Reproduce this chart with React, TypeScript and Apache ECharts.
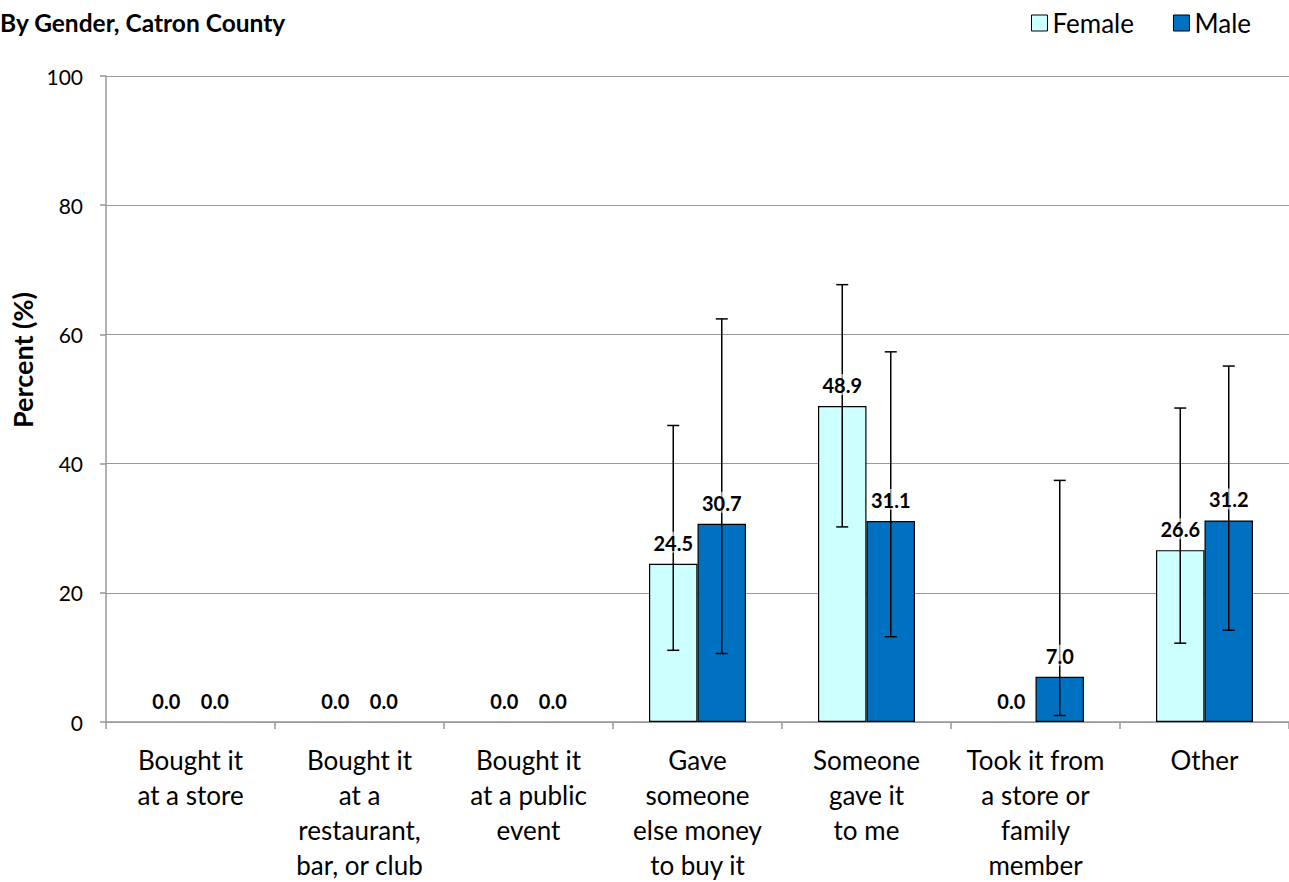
import React, { useEffect, useRef } from "react";
import * as echarts from "echarts";

const categories = [
  "Bought it\nat a store",
  "Bought it\nat a\nrestaurant,\nbar, or club",
  "Bought it\nat a public\nevent",
  "Gave\nsomeone\nelse money\nto buy it",
  "Someone\ngave it\nto me",
  "Took it from\na store or\nfamily\nmember",
  "Other",
];
const femaleValues = [0.0, 0.0, 0.0, 24.5, 48.9, 0.0, 26.6];
const maleValues = [0.0, 0.0, 0.0, 30.7, 31.1, 7.0, 31.2];
const femaleLow = [null, null, null, 11.1, 30.2, null, 12.2];
const femaleHigh = [null, null, null, 45.9, 67.7, null, 48.6];
const maleLow = [null, null, null, 10.6, 13.2, 1.0, 14.2];
const maleHigh = [null, null, null, 62.4, 57.3, 37.4, 55.1];
const yTicks = [0, 20, 40, 60, 80, 100];

const FONT = "Lato, 'Open Sans', sans-serif";

export default function App() {
  const ref = useRef<HTMLDivElement>(null);
  useEffect(() => {
    if (!ref.current) return;
    const chart = echarts.init(ref.current, null, { renderer: "svg" });
    const offsetFrac = 0.1435;
    const errSeries = (name: string, low: (number | null)[], high: (number | null)[], sign: number) => ({
      type: "custom",
      name,
      z: 3,
      silent: true,
      data: low.map((l, i) => [i, l, high[i]]).filter((d) => d[1] !== null),
      encode: { x: 0, y: [1, 2] },
      renderItem: (params: any, api: any) => {
        const idx = api.value(0);
        const lo = api.coord([idx, api.value(1)]);
        const hi = api.coord([idx, api.value(2)]);
        const band = api.size([1, 0])[0];
        const x = lo[0] + sign * band * offsetFrac;
        const cap = 6;
        const style = { stroke: "#000", lineWidth: 1.5 };
        return {
          type: "group",
          children: [
            { type: "line", shape: { x1: x, y1: lo[1], x2: x, y2: hi[1] }, style },
            { type: "line", shape: { x1: x - cap, y1: lo[1], x2: x + cap, y2: lo[1] }, style },
            { type: "line", shape: { x1: x - cap, y1: hi[1], x2: x + cap, y2: hi[1] }, style },
          ],
        };
      },
    });
    const labelSeries = (name: string, vals: number[], sign: number) => ({
      type: "custom",
      name,
      z: 4,
      silent: true,
      data: vals.map((v, i) => [i, v]),
      encode: { x: 0, y: 1 },
      renderItem: (params: any, api: any) => {
        const idx = api.value(0);
        const v = api.value(1);
        const p = api.coord([idx, v]);
        const band = api.size([1, 0])[0];
        const x = p[0] + sign * band * offsetFrac;
        return {
          type: "text",
          x,
          y: p[1] - 11,
          style: {
            text: Number(v).toFixed(1),
            fill: "#000",
            font: `bold 20px ${FONT}`,
            align: "center",
            verticalAlign: "bottom",
            backgroundColor: "rgba(255,255,255,0.6)",
            padding: [1, 2, 0, 2],
          },
        };
      },
    });
    const barData = (vals: number[], color: string) =>
      vals.map((v) => ({
        value: v,
        itemStyle:
          v === 0
            ? { color, borderColor: "#bbb", borderWidth: 0 }
            : { color, borderColor: "#000", borderWidth: 1.2 },
      }));
    chart.setOption({
      animation: false,
      backgroundColor: "#fff",
      textStyle: { fontFamily: FONT },
      title: {
        text: "By Gender, Catron County",
        left: 0,
        top: 10,
        padding: 0,
        textStyle: { fontSize: 24.5, fontWeight: "bold", color: "#000", fontFamily: FONT },
      },
      legend: {
        data: ["Female", "Male"],
        right: 33,
        top: 5,
        icon: "rect",
        itemWidth: 16,
        itemHeight: 16,
        itemGap: 39,
        itemStyle: { borderColor: "#000", borderWidth: 1 },
        textStyle: { fontSize: 26, color: "#000", fontFamily: FONT },
      },
      graphic: [
        {
          type: "text",
          x: 22,
          y: 360,
          rotation: Math.PI / 2,
          style: {
            text: "Percent (%)",
            fill: "#000",
            font: `bold 27px ${FONT}`,
            align: "center",
            verticalAlign: "middle",
          },
        },
      ],
      grid: { left: 106, right: 0, top: 76, bottom: 158, containLabel: false },
      xAxis: {
        type: "category",
        data: categories,
        axisLine: { lineStyle: { color: "#999", width: 1.5 } },
        axisTick: { show: true, length: 7, lineStyle: { color: "#999", width: 1.5 } },
        axisLabel: {
          interval: 0,
          color: "#000",
          fontSize: 26,
          lineHeight: 35,
          margin: 20,
          fontFamily: FONT,
        },
      },
      yAxis: {
        type: "value",
        min: 0,
        max: 100,
        interval: 20,
        axisLine: { show: true, lineStyle: { color: "#999", width: 1.5 } },
        axisTick: { show: true, length: 6, lineStyle: { color: "#999", width: 1.5 } },
        axisLabel: {
          color: "#000",
          fontSize: 21,
          margin: 23,
          fontFamily: FONT,
          formatter: (v: number) => (yTicks.includes(v) ? String(v) : ""),
        },
        splitLine: { lineStyle: { color: "#999", width: 1.2 } },
      },
      series: [
        {
          name: "Female",
          type: "bar",
          z: 2,
          data: barData(femaleValues, "#CCFFFF"),
          barWidth: "28.7%",
          barGap: "0%",
          itemStyle: { color: "#CCFFFF", borderColor: "#000", borderWidth: 1.2 },
        },
        {
          name: "Male",
          type: "bar",
          z: 2,
          data: barData(maleValues, "#0070C0"),
          barWidth: "28.7%",
          barGap: "0%",
          itemStyle: { color: "#0070C0", borderColor: "#000", borderWidth: 1.2 },
        },
        errSeries("FemaleErr", femaleLow, femaleHigh, -1),
        errSeries("MaleErr", maleLow, maleHigh, 1),
        labelSeries("FemaleLabel", femaleValues, -1),
        labelSeries("MaleLabel", maleValues, 1),
      ],
    });
    return () => chart.dispose();
  }, []);
  return (
    <div
      ref={ref}
      style={{ position: "fixed", left: 0, top: 0, width: 1289, height: 882 }}
    />
  );
}
